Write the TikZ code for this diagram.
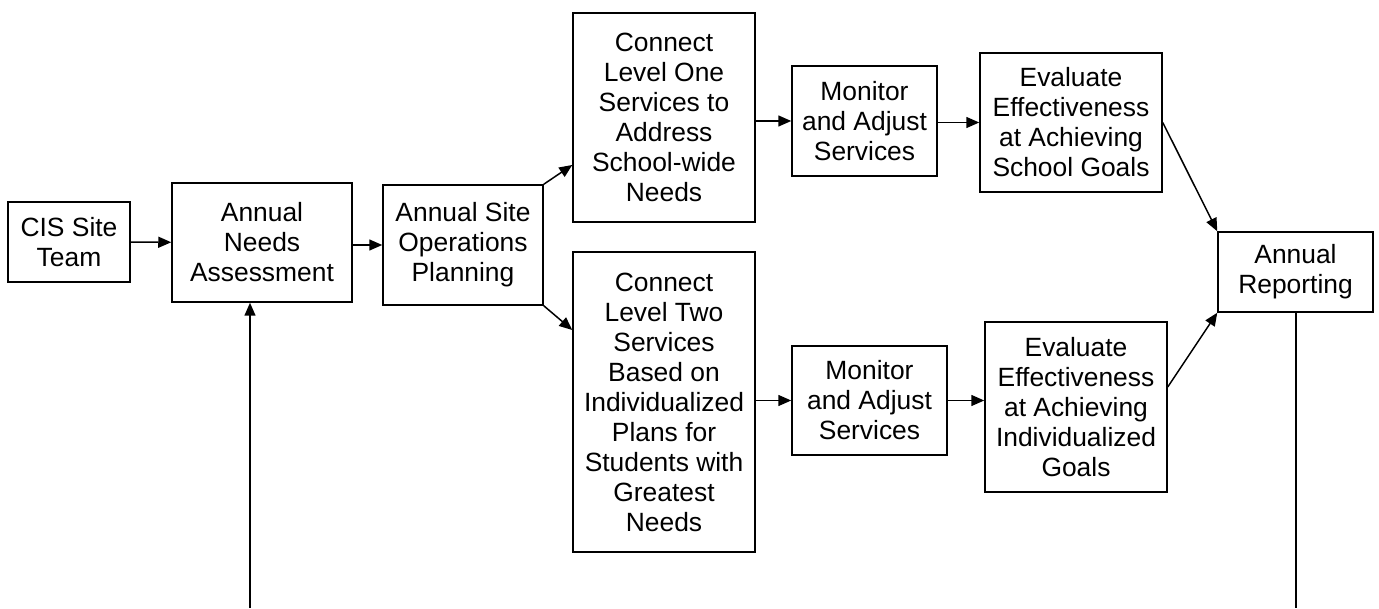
\documentclass[tikz,border=0pt]{standalone}
\usepackage{fontspec}
\setmainfont{Liberation Sans}
\usetikzlibrary{arrows.meta, positioning}

\begin{document}
\begin{tikzpicture}[x=1pt, y=1pt,
    box/.style={draw, line width=1.5pt, inner sep=0pt, align=center, font=\fontsize{26.4}{30}\selectfont},
    arr/.style={line width=1.5pt, -{Triangle[length=13pt,width=11pt]}}]
    \useasboundingbox (0,0) rectangle (1379,608);
    % left part
    \node[box, minimum width=122pt, minimum height=80pt] (cis) at (69,366) {CIS Site\\Team};
    \node[box, minimum width=180pt, minimum height=119pt] (needs) at (262,365.5) {Annual\\Needs\\Assessment};
    \node[box, minimum width=160pt, minimum height=120pt] (ops) at (463,363) {Annual Site\\Operations\\Planning};
    % level one
    \node[box, minimum width=182pt, minimum height=209pt] (one) at (664,490.5) {Connect\\Level One\\Services to\\Address\\School-wide\\Needs};
    \node[box, minimum width=145pt, minimum height=110pt] (montop) at (864.5,487) {Monitor\\and Adjust\\Services};
    \node[box, minimum width=182pt, minimum height=139pt] (evaltop) at (1071,485.5) {Evaluate\\Effectiveness\\at Achieving\\School Goals};
    % level two
    \node[box, minimum width=182pt, minimum height=300pt] (two) at (664,206) {Connect\\Level Two\\Services\\Based on\\Individualized\\Plans for\\Students with\\Greatest\\Needs};
    \node[box, minimum width=155pt, minimum height=109pt] (monbot) at (869.5,207.5) {Monitor\\and Adjust\\Services};
    \node[box, minimum width=182pt, minimum height=170pt] (evalbot) at (1076,201) {Evaluate\\Effectiveness\\at Achieving\\Individualized\\Goals};
    \node[box, minimum width=155pt, minimum height=80pt] (report) at (1295.5,336) {Annual\\Reporting};
    \coordinate (loopa) at (1296,0);
    \coordinate (loopb) at (250,0);

    \draw[arr] (cis) -- (needs);
    \draw[arr] (needs.east |- ops.west) -- (ops.west);
    \draw[arr] (ops.north east) -- ([yshift=-47.5pt]one.west);
    \draw[arr] (ops.south east) -- ([yshift=72pt]two.west);
    \draw[arr] (one.east |- montop.west) -- (montop.west);
    \draw[arr] (montop.east |- evaltop.west) -- (evaltop.west);
    \draw[arr] (evaltop.east) -- (report.north west);
    \draw[arr] (two.east |- monbot.west) -- (monbot.west);
    \draw[arr] (monbot.east) -- (evalbot.west |- monbot.east);
    \draw[arr] ([yshift=20pt]evalbot.east) -- (report.south west);
    \draw[line width=1.5pt] (report.south -| loopa) -- (loopa);
    \draw[arr] (loopb) -- (needs.south -| loopb);
\end{tikzpicture}
\end{document}
